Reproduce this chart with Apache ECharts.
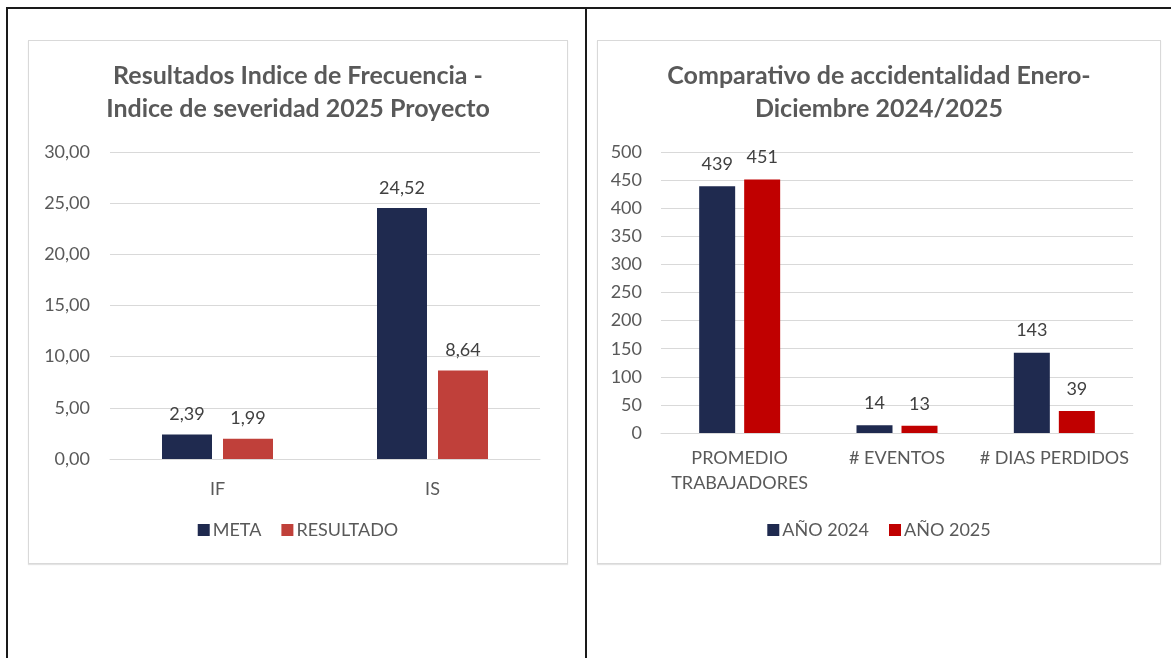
<!DOCTYPE html>
<html>
<head>
<meta charset="utf-8">
<script src="https://cdn.jsdelivr.net/npm/echarts@6/dist/echarts.min.js"></script>
<style>
  html, body { margin: 0; padding: 0; background: #ffffff; width: 1171px; height: 658px; overflow: hidden; }
  .rule { position: absolute; background: #1a1a1a; }
  .box { position: absolute; border: 1px solid #D9D9D9; box-shadow: 0 1px 1px #E4E4E4; background: #fff; }
  .chart { width: 100%; height: 100%; }
</style>
</head>
<body>
<!-- table rules -->
<div class="rule" style="left:6px; top:7px; width:1165px; height:2px;"></div>
<div class="rule" style="left:6px; top:7px; width:2px; height:651px;"></div>
<div class="rule" style="left:585px; top:7px; width:2px; height:651px;"></div>

<div class="box" style="left:28px; top:40px; width:538px; height:522px;"><div id="c1" class="chart"></div></div>
<div class="box" style="left:597px; top:40px; width:562px; height:522px;"><div id="c2" class="chart"></div></div>

<script>
// Chart 1: frequency / severity index
const indexCategories = ['IF', 'IS'];
const metaValues = [2.39, 24.52];
const resultadoValues = [1.99, 8.64];

// Chart 2: accident comparison 2024 vs 2025
const comparisonCategories = ['PROMEDIO\nTRABAJADORES', '# EVENTOS', '# DIAS PERDIDOS'];
const year2024Values = [439, 14, 143];
const year2025Values = [451, 13, 39];

const FONT = 'Lato, "Open Sans", sans-serif';
const GREY = '#595959';
const NAVY = '#1F2A4F';
const TXT = 18;

const comma2 = v => Number(v).toFixed(2).replace('.', ',');

function baseAxes(opts) {
  return {
    xAxis: {
      type: 'category',
      data: opts.categories,
      axisLine: { lineStyle: { color: '#D9D9D9', width: 1 } },
      axisTick: { show: false },
      axisLabel: { color: GREY, fontFamily: FONT, fontSize: TXT, margin: opts.xMargin, lineHeight: opts.xLineHeight, interval: 0 }
    },
    yAxis: {
      type: 'value',
      min: 0, max: opts.max, interval: opts.interval,
      axisLine: { show: false },
      axisTick: { show: false },
      splitLine: { lineStyle: { color: '#D9D9D9', width: 1 } },
      axisLabel: { color: GREY, fontFamily: FONT, fontSize: TXT, margin: opts.yMargin, formatter: opts.yFormat }
    }
  };
}

function titleOf(text) {
  return {
    text: text,
    left: 'center', top: 18, padding: 0,
    textStyle: { color: GREY, fontFamily: FONT, fontWeight: 'bold', fontSize: 25, lineHeight: 33 }
  };
}

function legendOf(names) {
  return {
    bottom: 24, left: 'center', padding: 0,
    icon: 'rect', itemWidth: 12, itemHeight: 12, itemGap: 20,
    textStyle: { color: GREY, fontFamily: FONT, fontSize: TXT, padding: [0, 0, 0, -2] },
    data: names
  };
}

function barSeries(name, data, color, width, gap, dist, fmt) {
  return {
    name: name, type: 'bar', data: data, barWidth: width, barGap: gap,
    itemStyle: { color: color },
    label: { show: true, position: 'top', distance: dist, color: '#404040', fontFamily: FONT, fontSize: TXT, formatter: fmt }
  };
}

const c1 = echarts.init(document.getElementById('c1'), null, { renderer: 'canvas' });
c1.setOption(Object.assign({
  animation: false,
  title: titleOf('Resultados Indice de Frecuencia -\nIndice de severidad 2025 Proyecto'),
  legend: legendOf(['META', 'RESULTADO']),
  grid: { left: 81, right: 27, top: 111, bottom: 104 },
  series: [
    barSeries('META', metaValues, NAVY, 50, '22%', 11, p => comma2(p.value)),
    barSeries('RESULTADO', resultadoValues, '#C0403A', 50, '22%', 11, p => comma2(p.value))
  ]
}, baseAxes({ categories: indexCategories, max: 30, interval: 5, xMargin: 19, xLineHeight: 22, yMargin: 20, yFormat: comma2 })));

const c2 = echarts.init(document.getElementById('c2'), null, { renderer: 'canvas' });
c2.setOption(Object.assign({
  animation: false,
  title: titleOf('Comparativo de accidentalidad Enero-\nDiciembre 2024/2025'),
  legend: legendOf(['AÑO 2024', 'AÑO 2025']),
  grid: { left: 63, right: 27, top: 111, bottom: 130 },
  series: [
    barSeries('AÑO 2024', year2024Values, NAVY, 36, '25%', 13, '{c}'),
    barSeries('AÑO 2025', year2025Values, '#C00000', 36, '25%', 13, '{c}')
  ]
}, baseAxes({ categories: comparisonCategories, max: 500, interval: 50, xMargin: 13, xLineHeight: 25, yMargin: 19, yFormat: v => String(v) })));
</script>
</body>
</html>
